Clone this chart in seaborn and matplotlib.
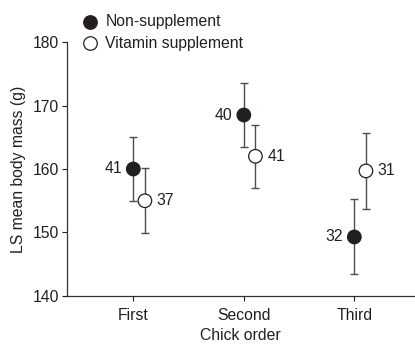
import numpy as np
import pandas as pd
import matplotlib
matplotlib.use("Agg")
import matplotlib.pyplot as plt
import seaborn as sns

sns.set_style("ticks")
plt.rcParams['font.family'] = ['Liberation Sans', 'DejaVu Sans']

# ---------------------------------
# DATA
# ---------------------------------

orders = ["First", "Second", "Third"]

non_mean = [160.0, 168.5, 149.3]
non_err = [5.0, 5.0, 5.9]
non_n = [41, 40, 32]

vit_mean = [155.0, 162.0, 159.7]
vit_err = [5.1, 5.0, 6.0]
vit_n = [37, 41, 31]

groups = ["Non-supplement", "Vitamin supplement"]

# ---------------------------------
# BUILD TABLE
# ---------------------------------

shift = {"Non-supplement": 0.0, "Vitamin supplement": 0.105}

df = pd.DataFrame({
    "order": orders * 2,
    "group": [groups[0]] * 3 + [groups[1]] * 3,
    "mean": non_mean + vit_mean,
    "err": non_err + vit_err,
    "n": non_n + vit_n,
})
df["pos"] = [orders.index(o) for o in df["order"]] + df["group"].map(shift)

# ---------------------------------
# PLOT
# ---------------------------------

ink = "#231f20"
fs = 11.3

fig = plt.figure(figsize=(4.15, 3.45), dpi=100)
ax = fig.add_axes([67 / 415, 49 / 345, 347 / 415, 254 / 345])

ax.errorbar(df["pos"], df["mean"], yerr=df["err"], fmt="none",
            ecolor="#4d4d4d", elinewidth=1.0, capsize=3.2, capthick=1.0, zorder=2)

sns.scatterplot(
    data=df, x="pos", y="mean", hue="group",
    palette={groups[0]: ink, groups[1]: "white"},
    edgecolor=ink, linewidth=0.9, s=95, zorder=3,
    legend=False, ax=ax
)

# sample sizes beside the markers
for _, row in df.iterrows():
    if row["group"] == groups[0]:
        ax.annotate(str(row["n"]), (row["pos"], row["mean"]), xytext=(-8, 0),
                    textcoords="offset points", ha="right", va="center",
                    fontsize=fs, color=ink)
    else:
        ax.annotate(str(row["n"]), (row["pos"], row["mean"]), xytext=(8.5, 0),
                    textcoords="offset points", ha="left", va="center",
                    fontsize=fs, color=ink)

ax.set_xlim(-0.6, 2.54)
ax.set_ylim(140, 180)
ax.set_xticks(range(len(orders)))
ax.set_xticklabels(orders)
ax.set_yticks([140, 150, 160, 170, 180])

ax.set_xlabel("Chick order", fontsize=fs, color=ink, labelpad=3)
ax.set_ylabel("LS mean body mass (g)", fontsize=fs, color=ink, labelpad=5)
ax.tick_params(labelsize=fs, colors=ink, length=3.5, width=0.8)
ax.tick_params(axis="x", pad=5.5)
ax.tick_params(axis="y", pad=2)

sns.despine(ax=ax)
for s in ["left", "bottom"]:
    ax.spines[s].set_color("#333333")
    ax.spines[s].set_linewidth(0.9)

# legend
h1 = ax.scatter([], [], s=95, color=ink, edgecolor=ink, linewidth=0.9)
h2 = ax.scatter([], [], s=95, color="white", edgecolor=ink, linewidth=0.9)
fig.legend([h1, h2], groups, loc="upper left", bbox_to_anchor=(74 / 415, 1 - 14 / 345),
           frameon=False, fontsize=fs, handletextpad=0.0, labelspacing=0.42,
           borderaxespad=0, borderpad=0.0, labelcolor=ink)

fig.savefig("out.png", dpi=100)
